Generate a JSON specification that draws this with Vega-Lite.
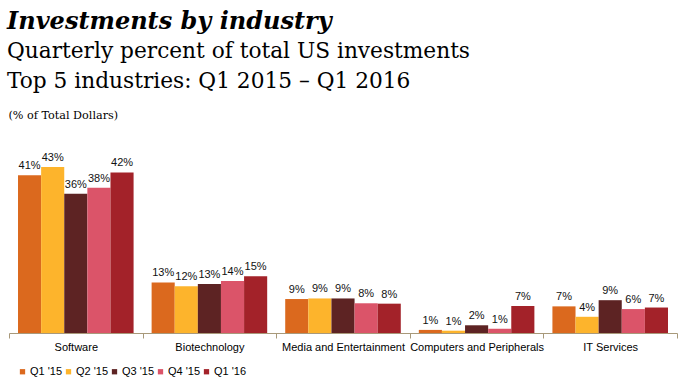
{
  "$schema": "https://vega.github.io/schema/vega-lite/v6.json",
  "width": 668,
  "height": 193,
  "autosize": {"type": "none"},
  "padding": {"left": 9, "top": 140, "right": 23, "bottom": 51},
  "background": "white",
  "title": {
    "text": "Investments by industry",
    "subtitle": ["Quarterly percent of total US investments", "Top 5 industries: Q1 2015 – Q1 2016"],
    "anchor": "start",
    "frame": "group",
    "dx": -2,
    "font": "DejaVu Serif",
    "fontSize": 24,
    "fontStyle": "italic",
    "fontWeight": "bold",
    "color": "#000000",
    "subtitleFont": "DejaVu Serif",
    "subtitleFontSize": 21.7,
    "subtitleColor": "#000000",
    "subtitleLineHeight": 30,
    "subtitlePadding": 7,
    "offset": 16
  },
  "data": {
    "values": [
      {"industry": "Software", "quarter": "Q1 '15", "value": 40.9, "label": "41%"},
      {"industry": "Software", "quarter": "Q2 '15", "value": 43.0, "label": "43%"},
      {"industry": "Software", "quarter": "Q3 '15", "value": 36.1, "label": "36%"},
      {"industry": "Software", "quarter": "Q4 '15", "value": 37.6, "label": "38%"},
      {"industry": "Software", "quarter": "Q1 '16", "value": 41.6, "label": "42%"},
      {"industry": "Biotechnology", "quarter": "Q1 '15", "value": 13.1, "label": "13%"},
      {"industry": "Biotechnology", "quarter": "Q2 '15", "value": 12.1, "label": "12%"},
      {"industry": "Biotechnology", "quarter": "Q3 '15", "value": 12.7, "label": "13%"},
      {"industry": "Biotechnology", "quarter": "Q4 '15", "value": 13.5, "label": "14%"},
      {"industry": "Biotechnology", "quarter": "Q1 '16", "value": 14.7, "label": "15%"},
      {"industry": "Media and Entertainment", "quarter": "Q1 '15", "value": 8.8, "label": "9%"},
      {"industry": "Media and Entertainment", "quarter": "Q2 '15", "value": 8.95, "label": "9%"},
      {"industry": "Media and Entertainment", "quarter": "Q3 '15", "value": 8.95, "label": "9%"},
      {"industry": "Media and Entertainment", "quarter": "Q4 '15", "value": 7.7, "label": "8%"},
      {"industry": "Media and Entertainment", "quarter": "Q1 '16", "value": 7.6, "label": "8%"},
      {"industry": "Computers and Peripherals", "quarter": "Q1 '15", "value": 0.8, "label": "1%"},
      {"industry": "Computers and Peripherals", "quarter": "Q2 '15", "value": 0.6, "label": "1%"},
      {"industry": "Computers and Peripherals", "quarter": "Q3 '15", "value": 2.0, "label": "2%"},
      {"industry": "Computers and Peripherals", "quarter": "Q4 '15", "value": 1.1, "label": "1%"},
      {"industry": "Computers and Peripherals", "quarter": "Q1 '16", "value": 7.0, "label": "7%"},
      {"industry": "IT Services", "quarter": "Q1 '15", "value": 6.9, "label": "7%"},
      {"industry": "IT Services", "quarter": "Q2 '15", "value": 4.2, "label": "4%"},
      {"industry": "IT Services", "quarter": "Q3 '15", "value": 8.5, "label": "9%"},
      {"industry": "IT Services", "quarter": "Q4 '15", "value": 6.2, "label": "6%"},
      {"industry": "IT Services", "quarter": "Q1 '16", "value": 6.6, "label": "7%"}
    ]
  },
  "encoding": {
    "x": {
      "field": "industry",
      "type": "nominal",
      "sort": ["Software", "Biotechnology", "Media and Entertainment", "Computers and Peripherals", "IT Services"],
      "scale": {"paddingInner": 0, "paddingOuter": 0},
      "axis": {
        "title": null,
        "labelAngle": 0,
        "labelFont": "Liberation Sans",
        "labelFontSize": 11,
        "labelColor": "#000000",
        "labelPadding": 3,
        "domainColor": "#A8997A",
        "tickColor": "#A8997A",
        "tickSize": 5,
        "tickBand": "extent",
        "grid": false
      }
    },
    "xOffset": {
      "field": "quarter",
      "type": "nominal",
      "sort": ["Q1 '15", "Q2 '15", "Q3 '15", "Q4 '15", "Q1 '16"],
      "scale": {"paddingInner": 0, "paddingOuter": 0.39}
    },
    "y": {
      "field": "value",
      "type": "quantitative",
      "scale": {"domain": [0, 50], "nice": false},
      "axis": {
        "title": "(% of Total Dollars)",
        "titleAngle": 0,
        "titleAlign": "left",
        "titleBaseline": "alphabetic",
        "titleX": -1,
        "titleY": -22,
        "titleFont": "DejaVu Serif",
        "titleFontSize": 11.2,
        "titleFontWeight": "normal",
        "titleColor": "#000000",
        "domain": false,
        "ticks": false,
        "labels": false,
        "grid": false
      }
    }
  },
  "layer": [
    {
      "mark": {"type": "bar"},
      "encoding": {
        "color": {
          "field": "quarter",
          "type": "nominal",
          "sort": ["Q1 '15", "Q2 '15", "Q3 '15", "Q4 '15", "Q1 '16"],
          "scale": {
            "domain": ["Q1 '15", "Q2 '15", "Q3 '15", "Q4 '15", "Q1 '16"],
            "range": ["#DB691E", "#FDB42C", "#5D2323", "#DB5469", "#A32229"]
          },
          "legend": {
            "title": null,
            "orient": "none",
            "direction": "horizontal",
            "legendX": 8,
            "legendY": 226,
            "symbolType": "square",
            "symbolSize": 28,
            "symbolStrokeWidth": 0,
            "labelFont": "Liberation Sans",
            "labelFontSize": 11,
            "labelColor": "#000000",
            "labelOffset": 2,
            "columnPadding": -2
          }
        }
      }
    },
    {
      "mark": {
        "type": "text",
        "baseline": "alphabetic",
        "align": "center",
        "dy": -6,
        "font": "Liberation Sans",
        "fontSize": 11,
        "color": "#111111"
      },
      "encoding": {
        "text": {"field": "label"}
      }
    }
  ],
  "config": {
    "view": {"stroke": null}
  }
}
